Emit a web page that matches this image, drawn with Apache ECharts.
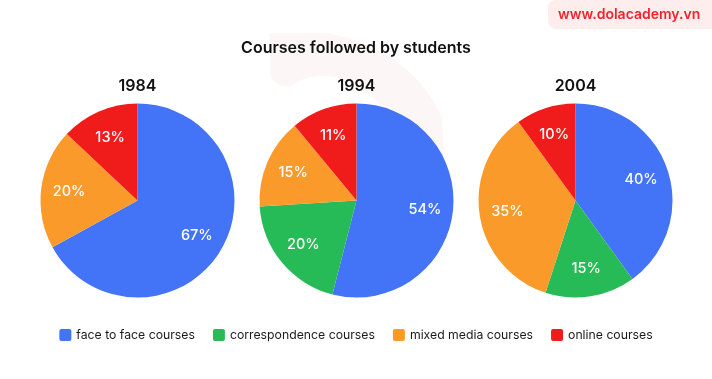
<!DOCTYPE html>
<html><head><meta charset="utf-8">
<script src="https://cdn.jsdelivr.net/npm/echarts@6/dist/echarts.min.js"></script>
<style>html,body{margin:0;padding:0;background:#fff}#c{width:712px;height:379px}</style>
</head><body><div id="c"></div>
<script>
const categories = ['face to face courses', 'correspondence courses', 'mixed media courses', 'online courses'];
const years = ['1984', '1994', '2004'];
const values1984 = [67, null, 20, 13];
const values1994 = [54, 20, 15, 11];
const values2004 = [40, 15, 35, 10];
const colors = ['#4374f7', '#27bb57', '#f99a2b', '#f01b1b'];

const allValues = [values1984, values1994, values2004];
const centersX = [137.5, 356.5, 575.5];
const R = 97;
const font = 'Inter, "Noto Sans", sans-serif';

function dataFor(vals) {
  const d = [];
  vals.forEach((v, i) => { if (v != null) d.push({ name: categories[i], value: v, itemStyle: { color: colors[i] } }); });
  return d;
}

const series = [];
allValues.forEach((vals, k) => {
  series.push({
    type: 'pie', center: [centersX[k], 200.5], radius: [0, R], startAngle: 90, clockwise: true,
    data: dataFor(vals), label: { show: false }, labelLine: { show: false },
    itemStyle: { borderWidth: 0 }, emphasis: { disabled: true }, animation: false
  });
  series.push({
    type: 'pie', center: [centersX[k], 200.5], radius: [0, R * 1.36], startAngle: 90, clockwise: true,
    data: dataFor(vals).map(d => ({ name: d.name, value: d.value, itemStyle: { color: 'rgba(0,0,0,0)' } })),
    silent: true, legendHoverLink: false,
    label: { show: true, position: 'inside', formatter: '{c}%', color: '#fff', fontSize: 14.5, fontWeight: 500, fontFamily: font },
    labelLine: { show: false }, emphasis: { disabled: true }, animation: false
  });
});

// faint background logo swoosh (decoration)
function bez(p0, p1, p2, p3, n) {
  const pts = [];
  for (let i = 0; i <= n; i++) {
    const t = i / n, u = 1 - t;
    pts.push([u*u*u*p0[0] + 3*u*u*t*p1[0] + 3*u*t*t*p2[0] + t*t*t*p3[0],
              u*u*u*p0[1] + 3*u*u*t*p1[1] + 3*u*t*t*p2[1] + t*t*t*p3[1]]);
  }
  return pts;
}
const logoPts = [[270, 33], [325, 33]]
  .concat(bez([325, 33], [385, 42], [425, 78], [442, 118], 16))
  .concat([[446, 200], [432, 200]])
  .concat(bez([432, 200], [420, 150], [395, 105], [345, 80], 16))
  .concat(bez([345, 80], [318, 70], [300, 80], [290, 86], 8))
  .concat(bez([290, 86], [278, 88], [270, 80], [270, 70], 6));

const graphics = [
  { type: 'polygon', z: -10, shape: { points: logoPts }, style: { fill: '#fdf6f6' } },
  { type: 'rect', left: 548, top: 0, shape: { width: 180, height: 29, r: 8 }, style: { fill: '#fdeded' }, z: -1 },
  { type: 'text', left: 558, top: 8, style: { text: 'www.dolacademy.vn', fill: '#f2242b', fontSize: 14, fontWeight: 600, fontFamily: font } }
];
years.forEach((y, k) => graphics.push({ type: 'text', x: centersX[k], y: 86,
  style: { text: y, align: 'center', verticalAlign: 'middle', fill: '#111', fontSize: 16, fontWeight: 600, fontFamily: font } }));

const chart = echarts.init(document.getElementById('c'), null, { renderer: 'canvas' });
chart.setOption({
  backgroundColor: '#fff',
  animation: false,
  title: { text: 'Courses followed by students', left: 'center', top: 35,
    textStyle: { fontSize: 16, fontWeight: 600, color: '#111', fontFamily: font } },
  legend: {
    data: categories, top: 324, left: 'center',
    icon: 'path://M2,0 L10,0 Q12,0 12,2 L12,10 Q12,12 10,12 L2,12 Q0,12 0,10 L0,2 Q0,0 2,0 Z',
    itemWidth: 12, itemHeight: 12, itemGap: 18,
    textStyle: { fontSize: 12.25, color: '#1a1a1a', fontFamily: font }
  },
  graphic: graphics,
  series: series
});
</script></body></html>
